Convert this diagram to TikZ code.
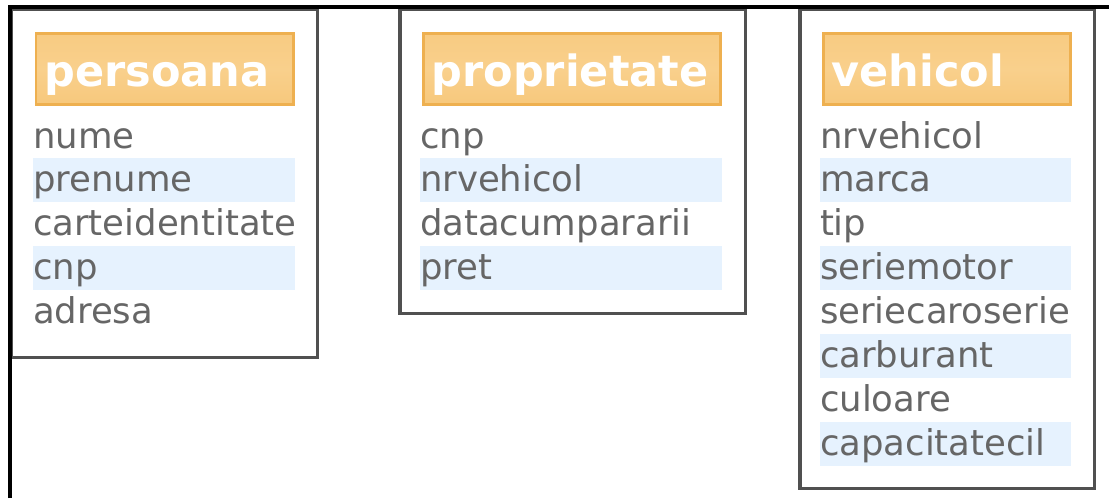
\documentclass[tikz,border=0pt]{standalone}
\usepackage{fontspec}
\setmainfont{DejaVu Sans}
\usepackage{xcolor}
\usepackage{tikz}
\usetikzlibrary{positioning}
\definecolor{framegray}{HTML}{505050}
\definecolor{headline}{HTML}{EEB050}
\definecolor{headtop}{HTML}{F8CB82}
\definecolor{headmid}{HTML}{F9D08C}
\definecolor{headbot}{HTML}{F7C87C}
\definecolor{stripeblue}{HTML}{E6F2FE}
\definecolor{fieldgray}{HTML}{666666}
\tikzset{
  tableframe/.style={draw=framegray, line width=0.07cm, rectangle, anchor=north west, inner sep=0pt},
  tablehead/.style={draw=headline, line width=0.06cm, rectangle, anchor=north west, top color=headtop, bottom color=headbot, middle color=headmid, text=white, align=left, inner xsep=0.17cm, inner ysep=0pt, minimum height=1.44cm, text height=0.8cm, text depth=0.1cm, font=\fontsize{24.5pt}{30pt}\selectfont\bfseries},
  field/.style={rectangle, anchor=north west, inner sep=0pt, outer sep=0pt, minimum height=0.88cm, text height=0.6cm, text depth=0.12cm, align=left, text=fieldgray, font=\fontsize{20.2pt}{24pt}\selectfont},
  stripe/.style={field, fill=stripeblue},
  outerline/.style={draw=black, line width=0.08cm}
}

\begin{document}
\begin{tikzpicture}[x=0.02cm, y=-0.02cm]
\useasboundingbox (0,0) rectangle (1109,498);

% table frames
\node[tableframe, minimum width=6.12cm, minimum height=6.98cm] (persoana) at (10,7) {};
\node[tableframe, minimum width=6.92cm, minimum height=6.1cm] (proprietate) at (398,7) {};
\node[tableframe, minimum width=5.9cm, minimum height=9.6cm] (vehicol) at (798,7) {};

% persoana
\node[tablehead, minimum width=5.16cm, text width=4.82cm] (persoanaHead) at (34.5,31.5) {persoana};
\node[field, minimum width=5.24cm, text width=5.24cm] (p1) at (33,114) {nume};
\node[stripe, minimum width=5.24cm, text width=5.24cm, below=0pt of p1] (p2) {prenume};
\node[field, minimum width=5.24cm, text width=5.24cm, below=0pt of p2] (p3) {carteidentitate};
\node[stripe, minimum width=5.24cm, text width=5.24cm, below=0pt of p3] (p4) {cnp};
\node[field, minimum width=5.24cm, text width=5.24cm, below=0pt of p4] (p5) {adresa};

% proprietate
\node[tablehead, minimum width=5.96cm, text width=5.62cm] (proprietateHead) at (421.5,31.5) {proprietate};
\node[field, minimum width=6.04cm, text width=6.04cm] (r1) at (420,114) {cnp};
\node[stripe, minimum width=6.04cm, text width=6.04cm, below=0pt of r1] (r2) {nrvehicol};
\node[field, minimum width=6.04cm, text width=6.04cm, below=0pt of r2] (r3) {datacumpararii};
\node[stripe, minimum width=6.04cm, text width=6.04cm, below=0pt of r3] (r4) {pret};

% vehicol
\node[tablehead, minimum width=4.96cm, text width=4.62cm] (vehicolHead) at (821.5,31.5) {vehicol};
\node[field, minimum width=5.02cm, text width=5.02cm] (v1) at (820,114) {nrvehicol};
\node[stripe, minimum width=5.02cm, text width=5.02cm, below=0pt of v1] (v2) {marca};
\node[field, minimum width=5.02cm, text width=5.02cm, below=0pt of v2] (v3) {tip};
\node[stripe, minimum width=5.02cm, text width=5.02cm, below=0pt of v3] (v4) {seriemotor};
\node[field, minimum width=5.02cm, text width=5.02cm, below=0pt of v4] (v5) {seriecaroserie};
\node[stripe, minimum width=5.02cm, text width=5.02cm, below=0pt of v5] (v6) {carburant};
\node[field, minimum width=5.02cm, text width=5.02cm, below=0pt of v6] (v7) {culoare};
\node[stripe, minimum width=5.02cm, text width=5.02cm, below=0pt of v7] (v8) {capacitatecil};

% outer frame
\draw[outerline] (10,498) -- (10,7) -- (1109,7);
\end{tikzpicture}
\end{document}
